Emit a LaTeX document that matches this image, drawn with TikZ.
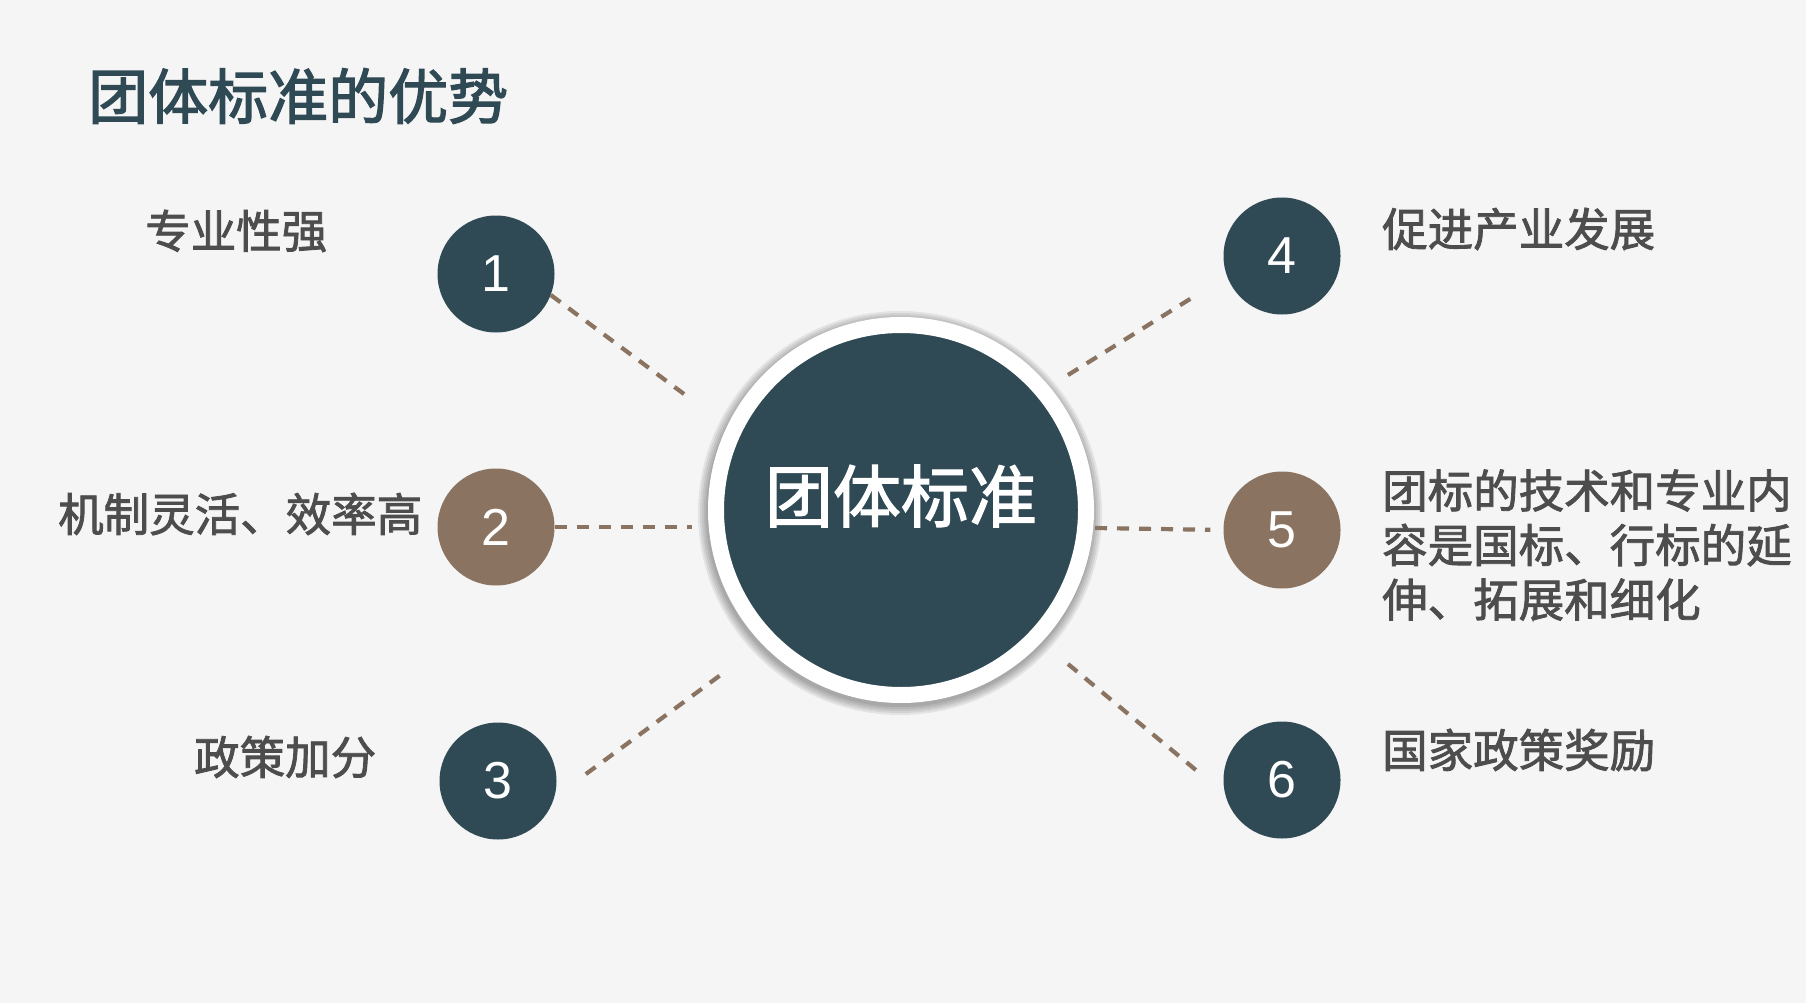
\documentclass[tikz,border=0pt]{standalone}
\usepackage{fontspec}
\setmainfont{Noto Sans CJK SC}
\newfontfamily\heavyfont{Noto Sans CJK SC}[FakeBold=1.8]
\newfontfamily\titlefont{Noto Sans CJK SC}[FakeBold=2.2]
\newfontfamily\digitfont{Liberation Sans}
\usepackage{xcolor}
\usepackage{tikz}
\definecolor{hubteal}{HTML}{2F4A54}
\definecolor{itembrown}{HTML}{8B7361}
\definecolor{itemgrey}{HTML}{4D4D4D}
\definecolor{paper}{HTML}{F5F5F5}

\begin{document}
\begin{tikzpicture}[
x=1pt, y=-1pt,
num/.style={circle, minimum size=117pt, inner sep=0pt, text=white, font=\digitfont\fontsize{52}{52}\selectfont},
item/.style={anchor=west, inner sep=0pt, text=itemgrey, align=left, font=\heavyfont\fontsize{45.5}{54.5}\selectfont},
link/.style={draw=itembrown, line width=4.2pt, dash pattern=on 12pt off 10pt}
]
\useasboundingbox (0,0) rectangle (1806,1003);
\fill[paper] (0,0) rectangle (1806,1003);
\node[anchor=west, inner sep=0pt, text=hubteal, font=\titlefont\fontsize{60}{60}\selectfont] (title) at (88,96) {团体标准的优势};
\foreach \r in {194,196,...,202}
  \fill[black, opacity=0.07] (900,513) circle [radius=\r*1pt];
\node[circle, fill=hubteal, draw=white, line width=16pt, minimum size=370pt, inner sep=0pt] (hub) at (901,510) {};
\node[text=white, font=\heavyfont\fontsize{68}{68}\selectfont] (hubtext) at (901,496) {团体标准};
\node[num, fill=hubteal] (n1) at (496,274) {1};
\node[num, fill=itembrown] (n2) at (496,527) {2};
\node[num, fill=hubteal] (n3) at (498,781) {3};
\node[num, fill=hubteal] (n4) at (1282,256) {4};
\node[num, fill=itembrown] (n5) at (1282,530) {5};
\node[num, fill=hubteal] (n6) at (1282,780) {6};
\coordinate (e1) at (688,397);
\coordinate (e2) at (692,527);
\coordinate (e3) at (726,671);
\coordinate (e4) at (1068,375);
\coordinate (e5) at (1095,528);
\coordinate (e6) at (1068,664);
\draw[link] (n1.-21) -- (e1);
\draw[link] (n2.east) -- (e2);
\draw[link, shorten <=39pt] (n3.-16) -- (e3);
\draw[link, shorten >=39pt] (e4) -- (n4.200);
\draw[link, shorten >=13pt] (e5) -- (n5.west);
\draw[link, shorten >=33pt] (e6) -- (n6.194);
\node[item] (t1) at (145,231) {专业性强};
\node[item] (t2) at (58,514) {机制灵活、效率高};
\node[item] (t3) at (194,757) {政策加分};
\node[item] (t4) at (1382,229) {促进产业发展};
\node[item] (t5) at (1382,545) {团标的技术和专业内\\容是国标、行标的延\\伸、拓展和细化};
\node[item] (t6) at (1382,750) {国家政策奖励};
\end{tikzpicture}
\end{document}
